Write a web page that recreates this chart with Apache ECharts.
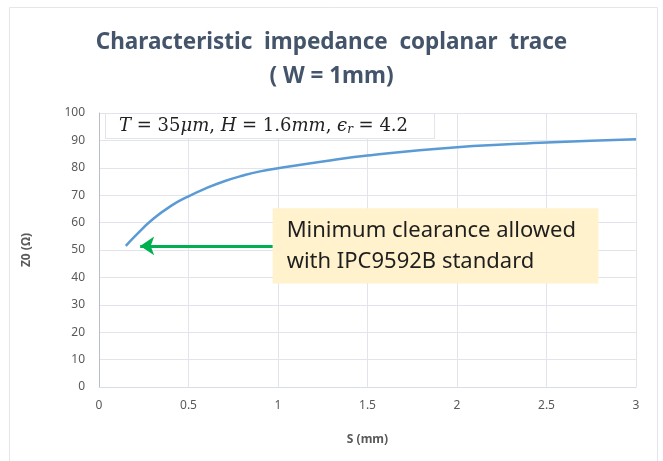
<!DOCTYPE html>
<html>
<head>
<meta charset="utf-8">
<script src="https://cdn.jsdelivr.net/npm/echarts@6/dist/echarts.min.js"></script>
<style>
  html, body { margin: 0; padding: 0; background: #fff; }
  #chart { width: 663px; height: 461px; }
</style>
</head>
<body>
<div id="chart"></div>
<script>
  // S (mm) vs Z0 (ohm)
  let sValues = [0.15, 0.2, 0.3, 0.4, 0.5, 0.6, 0.7, 0.8, 0.9, 1.0, 1.25, 1.5, 2.0, 2.5, 3.0];
  let z0Values = [51.5, 55, 61.2, 66, 69.6, 72.6, 75.1, 77.1, 78.7, 79.8, 82.3, 84.5, 87.5, 89.2, 90.4];

  // callout: arrow and box, in data units
  let arrowFrom = [0.97, 51.5];
  let arrowTo = [0.23, 51.5];
  let boxX = [0.97, 2.79];
  let boxY = [37.8, 65.2];
  let calloutText = 'Minimum clearance allowed\nwith IPC9592B standard';

  let points = sValues.map((s, i) => [s, z0Values[i]]);

  let chart = echarts.init(document.getElementById('chart'));
  let axisColor = '#595959';
  let option = {
    animation: false,
    title: {
      text: 'Characteristic  impedance  coplanar  trace\n( W = 1mm)',
      left: 'center',
      top: 21,
      textStyle: {
        fontFamily: 'Noto Sans',
        fontSize: 22.5,
        fontWeight: 'bold',
        color: '#44546A',
        lineHeight: 34
      }
    },
    grid: {
      left: 99,
      right: 27,
      top: 113,
      bottom: 74
    },
    xAxis: {
      type: 'value',
      min: 0,
      max: 3,
      interval: 0.5,
      name: 'S (mm)',
      nameLocation: 'middle',
      nameGap: 47,
      nameTextStyle: {
        color: axisColor,
        fontFamily: 'Noto Sans',
        fontSize: 12,
        fontWeight: 'bold'
      },
      axisLine: { show: true, lineStyle: { color: '#d9dde5' } },
      axisTick: { show: false },
      axisLabel: {
        color: axisColor,
        fontFamily: 'Noto Sans',
        fontSize: 12,
        margin: 13
      },
      splitLine: { show: true, lineStyle: { color: '#e1e4ea', width: 1 } }
    },
    yAxis: {
      type: 'value',
      min: 0,
      max: 100,
      interval: 10,
      name: 'Z0 (Ω)',
      nameLocation: 'middle',
      nameRotate: 90,
      nameGap: 66,
      nameTextStyle: {
        color: axisColor,
        fontFamily: 'Noto Sans',
        fontSize: 12,
        fontWeight: 'bold'
      },
      axisLine: { show: true, lineStyle: { color: '#b8bec8' } },
      axisTick: { show: false },
      axisLabel: {
        color: axisColor,
        fontFamily: 'Noto Sans',
        fontSize: 12,
        margin: 14
      },
      splitLine: { show: true, lineStyle: { color: '#e1e4ea', width: 1 } }
    },
    series: [{
      type: 'line',
      data: points,
      smooth: 0.5,
      showSymbol: false,
      lineStyle: { color: '#5B9BD5', width: 2.5 },
      markArea: {
        silent: true,
        itemStyle: { color: '#FFF2CC' },
        label: {
          show: true,
          position: 'insideLeft',
          distance: 14,
          color: '#1f1f1f',
          fontFamily: 'Noto Sans',
          fontSize: 22,
          lineHeight: 31,
          formatter: calloutText
        },
        data: [[
          { coord: [boxX[0], boxY[1]] },
          { coord: [boxX[1], boxY[0]] }
        ]]
      },
      markLine: {
        silent: true,
        symbol: ['none', 'arrow'],
        symbolSize: [14, 14],
        label: { show: false },
        lineStyle: { color: '#00B050', width: 3, type: 'solid' },
        data: [[
          { coord: arrowFrom },
          { coord: arrowTo }
        ]]
      }
    }],
    graphic: [
      {
        type: 'rect',
        shape: { x: 9.5, y: 7.5, width: 648, height: 470 },
        style: { fill: 'none', stroke: '#e3e6ea', lineWidth: 1 },
        z: -1
      },
      {
        type: 'text',
        left: 105,
        top: 113,
        z: 10,
        style: {
          text: '{i|T} = 35{i|μm}, {i|H} = 1.6{i|mm}, {i|ϵ}{s|r} = 4.2',
          fontFamily: 'DejaVu Serif',
          fontSize: 18,
          fill: '#222',
          backgroundColor: '#fff',
          borderColor: '#e1e4ea',
          borderWidth: 1,
          padding: [2, 26, 2, 13],
          rich: {
            i: { fontFamily: 'DejaVu Serif', fontStyle: 'italic', fontSize: 18, fill: '#222' },
            s: { fontFamily: 'DejaVu Serif', fontStyle: 'italic', fontSize: 12, fill: '#222', verticalAlign: 'bottom', padding: [8, 0, 0, 0] }
          }
        }
      }
    ]
  };
  chart.setOption(option);
  window.addEventListener('resize', function() {
    chart.resize();
  });
</script>
</body>
</html>
